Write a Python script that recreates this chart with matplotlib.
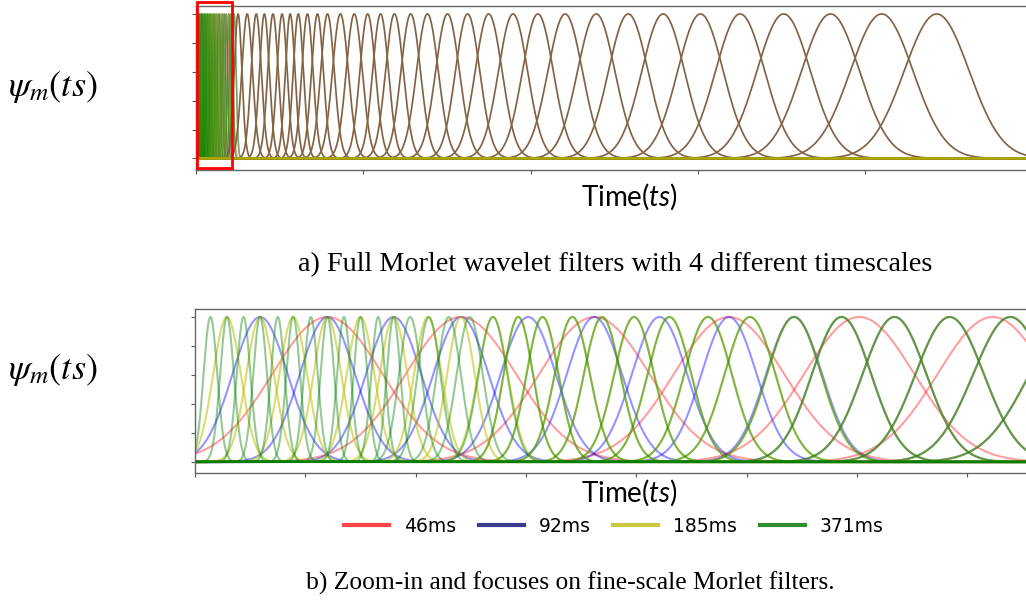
import numpy as np
import matplotlib.pyplot as plt
from matplotlib.lines import Line2D
from matplotlib.patches import Rectangle

plt.rcParams['mathtext.fontset'] = 'custom'
plt.rcParams['mathtext.rm'] = 'Lato'
plt.rcParams['mathtext.it'] = 'Lato:italic'

# filter centres (time units)
red_fine = [12.0, 24.1, 36.2, 48.4, 60.2, 72.3]
blue_fine = [5.9, 12.0, 18.0, 24.1, 30.2, 36.2, 42.1, 48.4]
yellow_fine = [2.9, 5.9, 8.9, 12.0, 15.0, 18.0, 21.1, 24.1]
green_fine = [1.4, 2.9, 4.4, 5.9, 7.5, 8.9, 10.5, 12.0, 13.5, 15.0, 16.6, 18.0]
# log spaced green filters; yellow joins them from 27.0, blue from 54.3
green_log = [19.5, 21.2, 23.0, 24.9, 27.0, 29.3, 31.5, 34.2, 36.9, 39.8, 43.0,
             46.5, 50.3, 54.3, 58.6, 63.4, 68.4, 73.9, 79.8]
yellow_join = 27.0
blue_join = 54.3
# filters common to all four timescales
shared = [88, 107, 126, 143, 161, 180, 197, 214, 233, 254, 275, 302, 331, 359,
          386, 415, 449, 484, 526, 568, 612, 663, 715, 772, 837, 904, 977,
          1055, 1138, 1229, 1327, 1434, 1549]

# widths of the evenly spaced filters (gaussian sigma)
fine_sigma = {'46ms': 5.0, '92ms': 2.5, '185ms': 1.25, '371ms': 0.62}
overlap = 0.59  # sigma / spacing for log spaced filters

labels = ['46ms', '92ms', '185ms', '371ms']
colors = {'46ms': 'red', '92ms': 'blue', '185ms': '#bfbf00', '371ms': 'green'}
alphas = {'46ms': 0.38, '92ms': 0.42, '185ms': 0.55, '371ms': 0.42}
legend_colors = ['#ff4545', '#3a3a8e', '#c8c83a', '#2e8e2e']

fine = {'46ms': red_fine, '92ms': blue_fine, '185ms': yellow_fine, '371ms': green_fine}
logpart = {'46ms': [],
           '92ms': [c for c in green_log if c >= blue_join],
           '185ms': [c for c in green_log if c >= yellow_join],
           '371ms': green_log}


def bank(name):
    lc = np.array(logpart[name] + shared, dtype=float)
    ls = overlap * np.gradient(lc)
    n = len(logpart[name])
    c = np.concatenate([fine[name], lc[:n]])
    s = np.concatenate([np.full(len(fine[name]), fine_sigma[name]), ls[:n]])
    return c, s


shared_c = np.array(shared, dtype=float)
shared_s = overlap * np.gradient(np.array(green_log + shared, dtype=float))[len(green_log):]

fig = plt.figure(figsize=(10.26, 6.08), dpi=100)
W, H = 1026, 608

axa = fig.add_axes([196 / W, 1 - 170 / H, 832 / W, 164 / H])
axb = fig.add_axes([195 / W, 1 - 473 / H, 833 / W, 164 / H])

# panel a
xa = np.linspace(0, 1745, 30000)
for name in ['92ms', '46ms', '185ms', '371ms']:
    c, s = bank(name)
    for ci, si in zip(c, s):
        axa.plot(xa, np.exp(-(xa - ci) ** 2 / (2 * si ** 2)),
                 color=colors[name], alpha=alphas[name] * 0.8, lw=1.1)
for ci, si in zip(shared_c, shared_s):
    axa.plot(xa, np.exp(-(xa - ci) ** 2 / (2 * si ** 2)), color='#7c5a4c', lw=1.2)
for ci, si in zip(shared_c, shared_s):
    axa.plot(xa, np.exp(-(xa - ci) ** 2 / (2 * si ** 2)), color='#b8b800', alpha=0.08, lw=1.6)
axa.set_xlim(0, 1740)
axa.set_ylim(-0.08, 1.055)
axa.set_xticks(np.arange(0, 1741, 350))
axa.add_patch(Rectangle((2, -0.066), 74, 1.146, fill=False, edgecolor='red',
                        lw=2, clip_on=False, zorder=10))

# panel b
xb = np.linspace(0, 78, 6000)
for name in labels:
    c, s = bank(name)
    for ci, si in zip(c, s):
        axb.plot(xb, np.exp(-(xb - ci) ** 2 / (2 * si ** 2)),
                 color=colors[name], alpha=alphas[name], lw=1.5)
axb.set_xlim(0, 75.5)
axb.set_ylim(-0.076, 1.055)
axb.set_xticks(np.arange(0, 76, 10))

for ax in (axa, axb):
    ax.set_yticks(np.arange(0, 1.01, 0.2))
    ax.tick_params(labelbottom=False, labelleft=False, length=3, width=0.8, color='#555555')
    for sp in ax.spines.values():
        sp.set_color('#666666')
        sp.set_linewidth(1.0)

# labels
for y in (87, 370):
    fig.text(53 / W, 1 - y / H, r'$\psi_m(ts)$', math_fontfamily='stix',
             fontsize=26, ha='center', va='center')
fig.text(629 / W, 1 - 197 / H, r'Time($\mathit{ts}$)', family='Lato',
         fontsize=20, ha='center', va='center')
fig.text(629 / W, 1 - 493 / H, r'Time($\mathit{ts}$)', family='Lato',
         fontsize=20, ha='center', va='center')
fig.text(615 / W, 1 - 265 / H, 'a) Full Morlet wavelet filters with 4 different timescales',
         family='Liberation Serif', fontsize=20.3, ha='center', va='center')
fig.text(570 / W, 1 - 583 / H, 'b) Zoom-in and focuses on fine-scale Morlet filters.',
         family='Liberation Serif', fontsize=18.4, ha='center', va='center')

handles = [Line2D([], [], color=c, lw=3) for c in legend_colors]
fig.legend(handles, labels, loc='center', bbox_to_anchor=(614 / W, 1 - 526 / H),
           ncol=4, frameon=False, fontsize=13.5, handlelength=2.4,
           handletextpad=0.8, columnspacing=1.2)

fig.savefig('out.png', dpi=100)
